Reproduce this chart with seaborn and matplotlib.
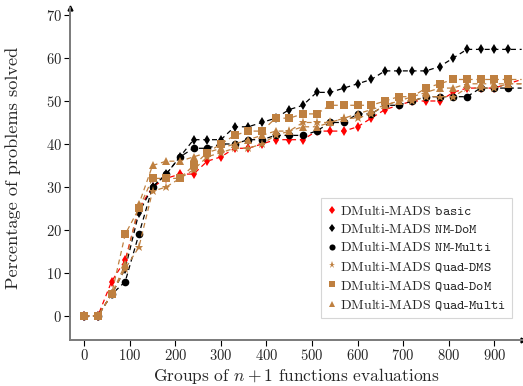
import numpy as np
import pandas as pd
import matplotlib
matplotlib.use("Agg")
import matplotlib.pyplot as plt
from matplotlib.lines import Line2D
import seaborn as sns

# Budget axis: groups of n+1 function evaluations, sampled every 30 groups
# (the last sample only carries the curves to the edge of the axis)
groups = list(range(0, 961, 30))

basic = [0, 0, 8, 13, 25, 30, 32, 33, 33, 36, 37, 39, 39, 40, 41, 41,
         41, 43, 43, 43, 44, 46, 48, 49, 50, 50, 50, 52, 53, 53, 53, 54, 55]
nm_dom = [0, 0, 5, 11, 24, 30, 33, 37, 41, 41, 41, 44, 44, 45, 46, 48,
          49, 52, 52, 53, 54, 55, 57, 57, 57, 57, 58, 60, 62, 62, 62, 62, 62]
nm_multi = [0, 0, 5, 8, 19, 30, 33, 37, 39, 39, 40, 40, 41, 41, 42, 42,
            42, 43, 45, 45, 47, 47, 49, 49, 50, 51, 51, 51, 51, 53, 53, 53, 53]
quad_dms = [0, 0, 5, 11, 16, 29, 30, 32, 34, 37, 38, 39, 39, 40, 42, 43,
            45, 45, 45, 46, 46, 47, 49, 50, 50, 51, 51, 51, 53, 53, 53, 54, 54]
quad_dom = [0, 0, 5, 19, 25, 32, 32, 32, 35, 38, 40, 42, 43, 43, 46, 46,
            47, 47, 49, 49, 49, 49, 50, 51, 51, 53, 54, 55, 55, 55, 55, 55, 55]
quad_multi = [0, 0, 5, 12, 26, 35, 36, 36, 37, 38, 39, 40, 41, 42, 43, 43,
              44, 44, 45, 46, 47, 48, 49, 50, 51, 52, 53, 53, 54, 54, 54, 54, 54]

labels = [
    r"DMulti-MADS $\mathtt{basic}$",
    r"DMulti-MADS $\mathtt{NM}$-$\mathtt{DoM}$",
    r"DMulti-MADS $\mathtt{NM}$-$\mathtt{Multi}$",
    r"DMulti-MADS $\mathtt{Quad}$-$\mathtt{DMS}$",
    r"DMulti-MADS $\mathtt{Quad}$-$\mathtt{DoM}$",
    r"DMulti-MADS $\mathtt{Quad}$-$\mathtt{Multi}$",
]
series = [basic, nm_dom, nm_multi, quad_dms, quad_dom, quad_multi]

brown = "#BF8040"
styles = [
    dict(color="red", marker="d", ms=5.5),
    dict(color="black", marker="d", ms=5.5),
    dict(color="black", marker="o", ms=5.5),
    dict(color=brown, marker="*", ms=6.5),
    dict(color=brown, marker="s", ms=5.5),
    dict(color=brown, marker="^", ms=5.5),
]

sns.set_theme(style="white")
plt.rcParams.update({
    "font.family": "serif",
    "font.serif": ["cmr10", "DejaVu Serif"],
    "mathtext.fontset": "cm",
    "axes.unicode_minus": False,
    "axes.formatter.use_mathtext": True,
})

fig = plt.figure(figsize=(5.23, 3.86), dpi=100)
ax = fig.add_axes([0.134, 0.119, 0.866, 0.86])

marked = list(range(len(groups) - 1))
for vals, lab, st in zip(series, labels, styles):
    df = pd.DataFrame({"groups": groups, "solved": vals})
    sns.lineplot(data=df, x="groups", y="solved", ax=ax, legend=False,
                 color=st["color"], marker=st["marker"], markersize=st["ms"],
                 markeredgewidth=0, markevery=marked)

# dashed curves
for line in ax.lines:
    line.set_linestyle((0, (4, 3)))
    line.set_linewidth(0.9)

ax.set_xlim(-31, 963)
ax.set_ylim(-5.6, 71.6)
ax.set_xticks(range(0, 901, 100))
ax.set_yticks(range(0, 71, 10))
ax.tick_params(axis="both", direction="out", length=4, width=0.8,
               color="black", labelsize=10.5, pad=2, bottom=True, left=True)

for side in ("top", "right"):
    ax.spines[side].set_visible(False)
for side in ("left", "bottom"):
    ax.spines[side].set_color("#7a7a7a")
    ax.spines[side].set_linewidth(1.4)

# arrow heads at the ends of the axis lines
ax.plot(1, 0, ">", color="black", ms=3.5, transform=ax.transAxes, clip_on=False)
ax.plot(0, 1, "^", color="black", ms=3.5, transform=ax.transAxes, clip_on=False)

ax.set_xlabel(r"Groups of $n+1$ functions evaluations", fontsize=12.5, labelpad=2)
ax.set_ylabel("Percentage of problems solved", fontsize=13.2)
ax.yaxis.set_label_coords(-0.108, 0.52)

handles = [Line2D([], [], linestyle="none", color=st["color"], marker=st["marker"],
                  markersize=st["ms"] * 0.8, markeredgewidth=0) for st in styles]
leg = ax.legend(handles, labels, loc="lower right", bbox_to_anchor=(0.976, 0.066),
                borderaxespad=0, fontsize=10, frameon=True, fancybox=False,
                edgecolor="#cccccc", handlelength=0.6, handletextpad=0.3,
                borderpad=0.45, labelspacing=0.3)
leg.get_frame().set_linewidth(0.8)

fig.savefig("out.png", dpi=100)
